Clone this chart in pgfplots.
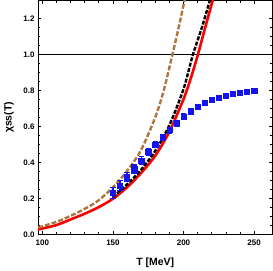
\documentclass[border=0pt]{standalone}
\usepackage{fontspec}
\setmainfont{Liberation Sans}
\usepackage{pgfplots}
\pgfplotsset{compat=1.18}
\definecolor{mybrown}{RGB}{172,118,64}
\definecolor{myblue}{RGB}{20,20,240}
\definecolor{myred}{RGB}{250,0,0}

\pgfplotstableread{
T v e
150 0.230 0.030
155 0.272 0.028
160 0.318 0.026
165 0.362 0.024
170 0.410 0.022
175 0.458 0.020
180 0.500 0.018
185 0.540 0.017
190 0.580 0.016
195 0.618 0.015
200 0.655 0.014
205 0.685 0.013
210 0.710 0.012
215 0.732 0.012
220 0.750 0.011
225 0.762 0.011
230 0.772 0.010
235 0.781 0.010
240 0.789 0.010
245 0.795 0.010
250 0.800 0.010
}\lattice

\pgfplotstableread{
T v
97 0.028
100 0.033
110 0.052
120 0.083
130 0.115
140 0.152
150 0.198
160 0.262
170 0.342
180 0.438
190 0.572
200 0.752
205 0.865
210 0.995
215 1.140
221 1.310
}\redcurve

\pgfplotstableread{
T v
150 0.208
160 0.278
170 0.360
180 0.465
190 0.608
200 0.808
206.5 0.995
213 1.150
219 1.310
}\blackcurve

\pgfplotstableread{
T v
97 0.040
100 0.045
110 0.070
120 0.103
130 0.142
140 0.190
150 0.262
160 0.352
170 0.470
180 0.652
186 0.800
192 0.995
196 1.130
201 1.310
}\browncurve

\begin{document}
\begin{tikzpicture}
\begin{axis}[
  scale only axis, width=234bp, height=233.5bp,
  xmin=97, xmax=263, ymin=0, ymax=1.3,
  xtick={100,150,200,250}, minor x tick num=4,
  ytick={0,0.2,0.4,0.6,0.8,1.0,1.2}, minor y tick num=3,
  yticklabel style={/pgf/number format/fixed, /pgf/number format/fixed zerofill, /pgf/number format/precision=1},
  /pgf/number format/assume math mode=true,
  tick label style={font=\fontsize{8}{9}\selectfont\bfseries},
  xticklabel style={yshift=-1.5bp},
  label style={font=\fontsize{10.5}{12}\selectfont\bfseries},
  xlabel={T [MeV]}, ylabel={χss(T)},
  xlabel style={at={(axis description cs:0.5,0)}, anchor=center, yshift=-28bp},
  ylabel style={at={(axis description cs:0,0.5)}, anchor=center, yshift=29bp},
  axis line style={line width=0.8bp},
  major tick length=3bp, minor tick length=2bp,
  every tick/.style={black, line width=0.7bp},
]
\addplot[black, line width=0.8bp] coordinates {(97,1) (263,1)};
\addplot[myred, line width=2.6bp, smooth] table[x=T, y=v] {\redcurve};
\addplot[black, line width=2.4bp, smooth, dash pattern=on 4bp off 1.5bp] table[x=T, y=v] {\blackcurve};
\addplot[mybrown, line width=2.4bp, smooth, dash pattern=on 5bp off 2bp] table[x=T, y=v] {\browncurve};
\addplot[only marks, mark=square*, mark size=2.6bp, color=myblue,
  error bars/.cd, y dir=both, y explicit,
  error bar style={line width=1.2bp, myblue},
  error mark options={rotate=90, mark size=2.6bp, line width=1.2bp, myblue}]
  table[x=T, y=v, y error=e] {\lattice};
\end{axis}
\pgfresetboundingbox
\path[use as bounding box] (current axis.south west) ++(-38bp,-36.5bp) rectangle ([shift={(0.5bp,0.5bp)}]current axis.north east);
\end{tikzpicture}
\end{document}
